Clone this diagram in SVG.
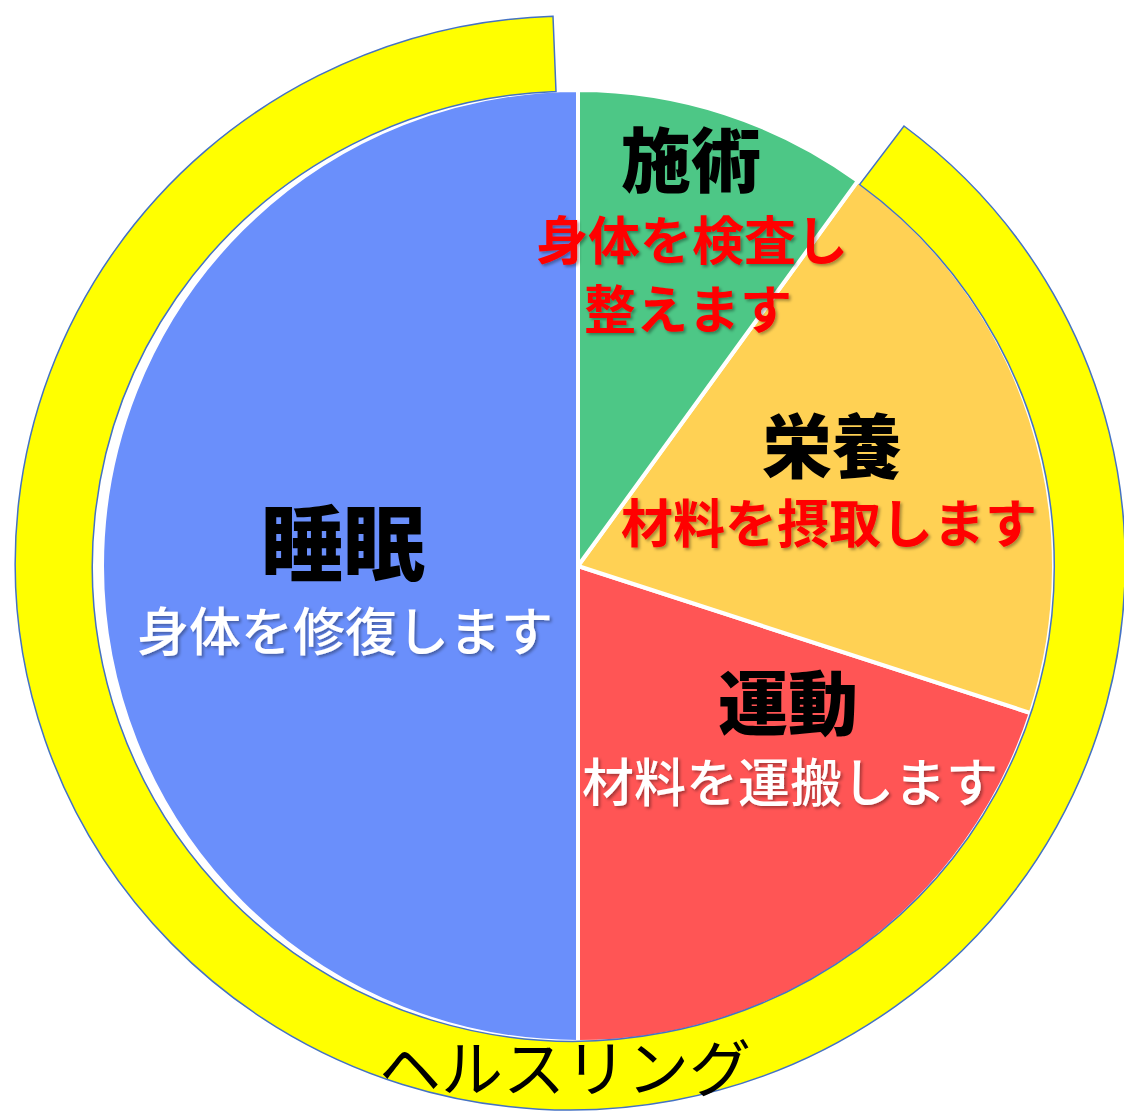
<svg xmlns="http://www.w3.org/2000/svg" width="1124" height="1113" viewBox="0 0 1124 1113">
  <defs>
    <style>
      .slice { stroke: #ffffff; stroke-width: 4; stroke-linejoin: round; }
      .title { font-family: "Noto Sans CJK JP", "Noto Sans", sans-serif; font-weight: 900; fill: #000000; text-anchor: middle; }
      .desc { font-family: "Noto Sans CJK JP", "Noto Sans", sans-serif; font-weight: 700; text-anchor: middle; font-size: 52px; filter: url(#shadow); }
      .red { fill: #ff0000; }
      .white { fill: #ffffff; font-weight: 500; }
      .ring { fill: #ffff00; stroke: #4472c4; stroke-width: 1.5; }
      .ringlabel { font-family: "Noto Sans CJK JP", "Noto Sans", sans-serif; font-weight: 400; font-size: 62px; fill: #000000; text-anchor: middle; }
    </style>
    <filter id="shadow" x="-10%" y="-30%" width="120%" height="160%">
      <feDropShadow dx="2" dy="2" stdDeviation="1.5" flood-color="#000000" flood-opacity="0.35"/>
    </filter>
  </defs>

  <g id="pie">
    <g id="node-suimin">
      <path class="slice" fill="#6a8ffb" d="M578,566 L578,1042 A476,476 0 0 1 578,90 Z"/>
      <text class="title" x="343" y="574" font-size="82">睡眠</text>
      <text class="desc white" x="345" y="651">身体を修復します</text>
    </g>
    <g id="node-undou">
      <path class="slice" fill="#ff5555" d="M578,566 L1030.7,713.1 A476,476 0 0 1 578,1042 Z"/>
      <text class="title" x="788" y="730" font-size="70">運動</text>
      <text class="desc white" x="790" y="802">材料を運搬します</text>
    </g>
    <g id="node-eiyou">
      <path class="slice" fill="#ffd154" d="M578,566 L857.8,180.9 A476,476 0 0 1 1030.7,713.1 Z"/>
      <text class="title" x="832" y="473" font-size="70">栄養</text>
      <text class="desc red" x="829" y="543">材料を摂取します</text>
    </g>
    <g id="node-shijutsu">
      <path class="slice" fill="#4dc786" d="M578,566 L578,90 A476,476 0 0 1 857.8,180.9 Z"/>
      <text class="title" x="691" y="187" font-size="70">施術</text>
      <text class="desc red" x="692" y="260">身体を検査し</text>
      <text class="desc red" x="688" y="329">整えます</text>
    </g>
  </g>

  <g id="node-ring">
    <path class="ring" d="M553,16.3 A555,547 0 1 0 904,126 L859.6,184.5 A481,475 0 1 1 556,91.5 Z"/>
    <text class="ringlabel" x="565" y="1092">ヘルスリング</text>
  </g>

  <g id="connectors"/>
</svg>
